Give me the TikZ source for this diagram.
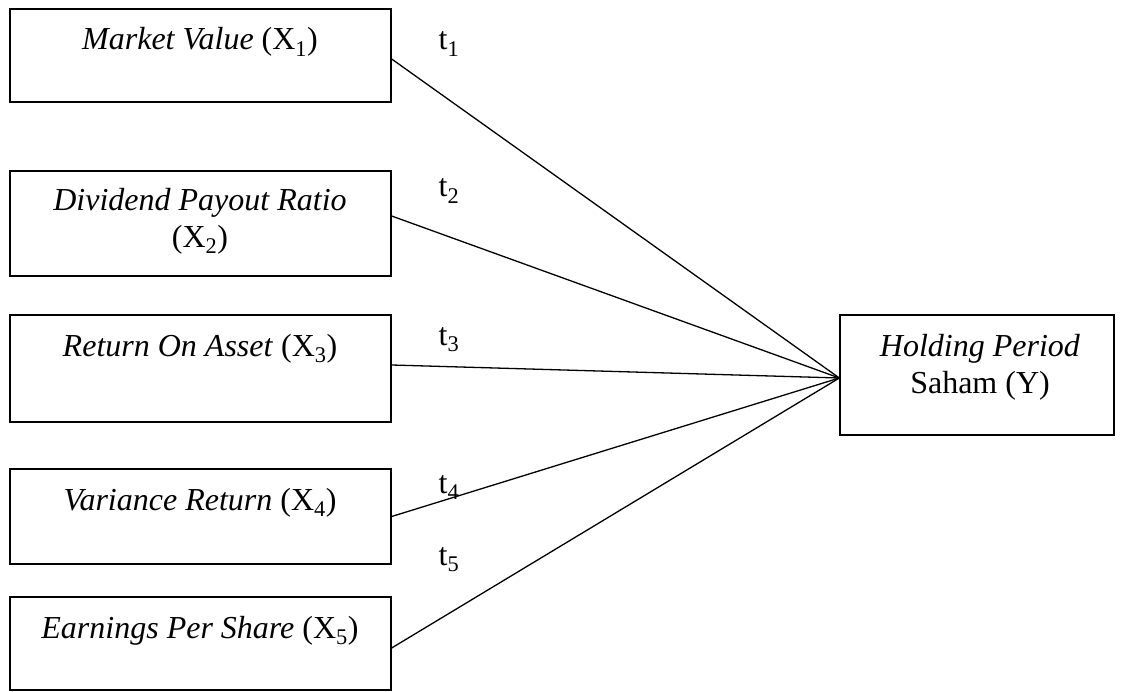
\documentclass[tikz,border=0pt]{standalone}
\usepackage{fontspec}
\setmainfont{Liberation Serif}
\begin{document}
\begin{tikzpicture}[x=1pt,y=-1pt,
  varbox/.style={draw, line width=1.3pt, rectangle, minimum width=381pt, inner sep=0pt},
  boxtext/.style={inner sep=0pt, align=center, font=\fontsize{32}{37}\selectfont},
  tlabel/.style={anchor=base, inner sep=0pt, font=\fontsize{32}{37}\selectfont},
  link/.style={line width=1.3pt}]
\useasboundingbox (0,0) rectangle (1124,692);
\fill[white] (0,0) rectangle (1124,692);
% boxes
\node[varbox, minimum height=93pt] (b1) at (200.5,55.5) {};
\node[varbox, minimum height=105pt] (b2) at (200.5,223.5) {};
\node[varbox, minimum height=107pt] (b3) at (200.5,368.5) {};
\node[varbox, minimum height=95pt] (b4) at (200.5,516.5) {};
\node[varbox, minimum height=93pt] (b5) at (200.5,643.5) {};
\node[varbox, minimum width=274pt, minimum height=120pt] (y) at (977,375) {};
% texts
\node[boxtext, anchor=base] (t1txt) at (200,50) {\textit{Market Value} (X\textsubscript{1})};
\node[boxtext, anchor=north] (t2txt) at (200,188) {\textit{Dividend Payout Ratio}\\(X\textsubscript{2})};
\node[boxtext, anchor=base] (t3txt) at (200,356) {\textit{Return On Asset} (X\textsubscript{3})};
\node[boxtext, anchor=base] (t4txt) at (200,510) {\textit{Variance Return} (X\textsubscript{4})};
\node[boxtext, anchor=base] (t5txt) at (200,638) {\textit{Earnings Per Share} (X\textsubscript{5})};
\node[boxtext, anchor=north] (ytxt) at (980,334) {\textit{Holding Period}\\Saham (Y)};
% convergence point on the left side of Y
\coordinate (c) at ([yshift=-3pt]y.west);
% links
\draw[link] ([yshift=-3.5pt]b1.east) -- (c);
\draw[link] ([yshift=7.5pt]b2.east) -- (c);
\draw[link] ([yshift=3.5pt]b3.east) -- (c);
\draw[link] (b4.east) -- (c);
\draw[link] ([yshift=-4.5pt]b5.east) -- (c);
% t labels
\node[tlabel] (l1) at (449,50) {t\textsubscript{1}};
\node[tlabel] (l2) at (449,197) {t\textsubscript{2}};
\node[tlabel] (l3) at (449,345) {t\textsubscript{3}};
\node[tlabel] (l4) at (449,493) {t\textsubscript{4}};
\node[tlabel] (l5) at (449,565) {t\textsubscript{5}};
\end{tikzpicture}
\end{document}
